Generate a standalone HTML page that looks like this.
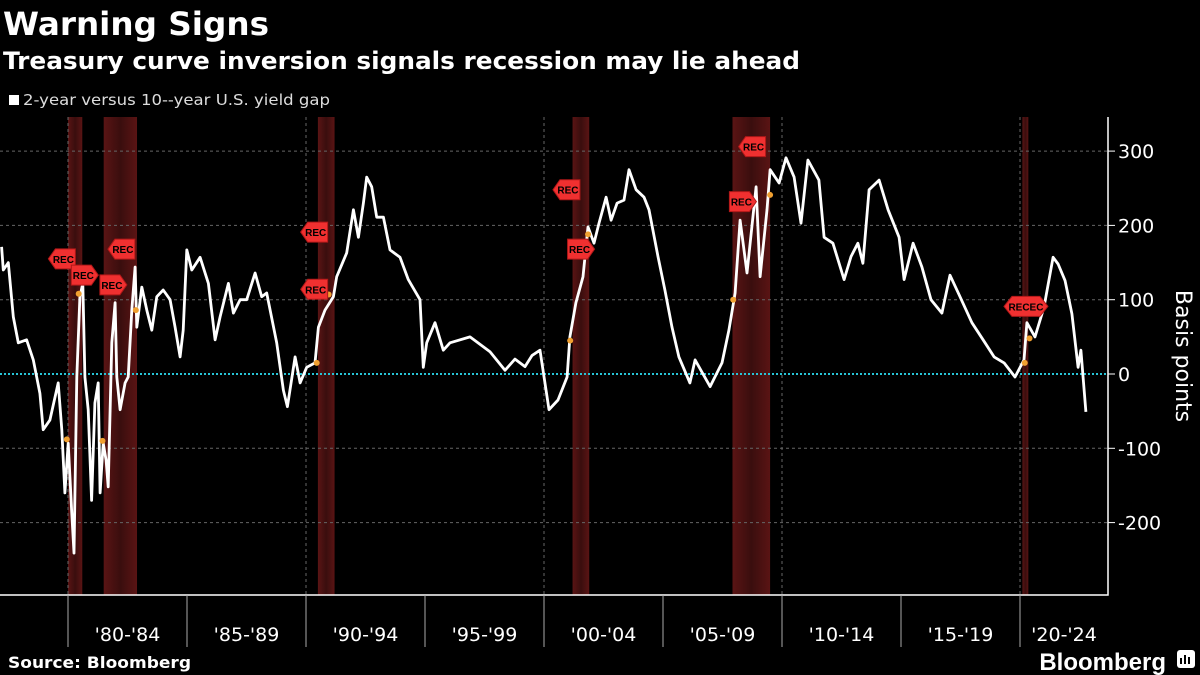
<!DOCTYPE html>
<html><head><meta charset="utf-8"><style>
html,body{margin:0;padding:0;background:#000;width:1200px;height:675px;overflow:hidden}
svg{display:block}
text{font-family:"Liberation Sans",sans-serif}
.dv{font-family:"DejaVu Sans",sans-serif}
</style></head><body>
<svg id="chart" width="1200" height="675" viewBox="0 0 1200 675">
<defs>
<linearGradient id="band" x1="0" x2="1" y1="0" y2="0">
<stop offset="0" stop-color="#5a1414"/><stop offset="0.5" stop-color="#3a0e0e"/><stop offset="1" stop-color="#5a1414"/>
</linearGradient>
</defs>
<text class="dv" x="3" y="35" font-size="32" font-weight="bold" fill="#fff" textLength="266" lengthAdjust="spacingAndGlyphs">Warning Signs</text>
<text class="dv" x="3" y="69" font-size="24" font-weight="bold" fill="#fff" textLength="797" lengthAdjust="spacingAndGlyphs">Treasury curve inversion signals recession may lie ahead</text>
<rect x="9" y="95" width="10" height="10" fill="#fff"/>
<text class="dv" x="23" y="105" font-size="15" fill="#ddd" textLength="307" lengthAdjust="spacingAndGlyphs">2-year versus 10--year U.S. yield gap</text>
<g id="bands"></g>
<g id="grid"></g>
<g id="series"></g>
<g id="marks"></g>
<g id="axes"></g>
<text class="dv" x="0" y="0" transform="translate(1176,356) rotate(90)" text-anchor="middle" font-size="22" fill="#fff">Basis points</text>
<text class="dv" x="8" y="668" font-size="16" font-weight="bold" fill="#fff" textLength="183" lengthAdjust="spacingAndGlyphs">Source: Bloomberg</text>
<text x="1166" y="670" text-anchor="end" font-size="24" font-weight="bold" fill="#fff">Bloomberg</text>
<g>
<rect x="1177" y="650" width="18" height="18" rx="3" fill="#fff"/>
<rect x="1180" y="658" width="2" height="6" fill="#000"/><rect x="1184" y="655" width="2" height="9" fill="#000"/><rect x="1188" y="657" width="2" height="7" fill="#000"/>
</g>
</svg>
<script>
const years=[1977.21,1977.28,1977.49,1977.70,1977.91,1978.26,1978.54,1978.82,1978.96,1979.24,1979.59,1979.74,1979.87,1980.01,1980.15,1980.25,1980.37,1980.50,1980.62,1980.71,1980.85,1980.99,1981.13,1981.27,1981.35,1981.48,1981.60,1981.69,1981.84,1981.98,1982.05,1982.19,1982.40,1982.53,1982.68,1982.82,1982.89,1983.10,1983.31,1983.52,1983.73,1984.00,1984.29,1984.50,1984.71,1984.84,1984.99,1985.20,1985.55,1985.90,1986.18,1986.39,1986.74,1986.95,1987.23,1987.51,1987.86,1988.14,1988.35,1988.77,1989.05,1989.22,1989.54,1989.75,1990.03,1990.38,1990.52,1990.80,1991.15,1991.29,1991.71,1991.99,1992.20,1992.41,1992.55,1992.76,1992.97,1993.25,1993.53,1993.95,1994.30,1994.79,1994.93,1995.07,1995.42,1995.77,1996.05,1996.89,1997.73,1998.36,1998.78,1999.20,1999.50,1999.83,2000.21,2000.59,2000.97,2001.09,2001.34,2001.64,2001.85,2002.10,2002.31,2002.61,2002.82,2003.07,2003.36,2003.57,2003.87,2004.20,2004.41,2004.79,2005.08,2005.38,2005.67,2006.13,2006.35,2006.98,2007.48,2007.77,2008.03,2008.24,2008.53,2008.91,2009.08,2009.37,2009.50,2009.88,2010.17,2010.51,2010.80,2011.09,2011.55,2011.77,2012.14,2012.61,2012.90,2013.19,2013.40,2013.66,2014.08,2014.46,2014.92,2015.13,2015.51,2015.88,2016.26,2016.72,2017.06,2017.48,2017.98,2018.45,2018.91,2019.33,2019.79,2020.17,2020.29,2020.63,2021.01,2021.39,2021.60,2021.89,2022.18,2022.44,2022.56,2022.77];
const spread=[171,140,150,77,42,46,19,-26,-75,-62,-12,-75,-160,-93,-183,-241,-4,104,122,-4,-48,-170,-39,-12,-160,-93,-116,-152,42,96,-4,-48,-12,-4,86,144,63,117,86,59,104,113,100,63,23,59,167,140,157,122,46,77,122,82,100,100,136,104,109,42,-22,-44,23,-12,9,15,63,86,104,131,163,221,184,230,265,252,211,211,167,157,127,100,9,42,69,32,42,50,30,5,20,10,25,32,-48,-35,-4,50,96,131,198,176,203,238,207,230,234,275,248,238,221,158,113,63,23,-12,19,-17,15,59,109,207,136,252,131,221,275,257,291,265,203,288,261,184,176,127,158,176,149,248,261,221,184,127,176,144,100,82,133,104,69,46,23,15,-4,19,69,50,90,157,148,126,81,9,32,-51];
const recStart=[1980.0,1981.5,1990.5,2001.2,2007.92,2020.1];
const recEnd=[1980.6,1982.9,1991.2,2001.9,2009.5,2020.35];
const yTicks=[300,200,100,0,-100,-200];
const xTickYears=[1980,1985,1990,1995,2000,2005,2010,2015,2020,2025];
const xLabels=["'80-'84","'85-'89","'90-'94","'95-'99","'00-'04","'05-'09","'10-'14","'15-'19","'20-'24"];
const gridYears=[1980,1990,2000,2010,2020];
const recFlags=[[1980.1,155,'L'],[1980.35,133,'R'],[1981.55,120,'R'],[1982.6,168,'L'],[1990.7,191,'L'],[1990.7,114,'L'],[2001.3,248,'L'],[2001.2,168,'R'],[2009.1,306,'L'],[2008.0,232,'R'],[2020.25,91,'D']];
const dots=[[1979.95,-88],[1980.45,108],[1981.45,-90],[1982.85,86],[1990.45,15],[1990.95,107],[2001.1,45],[2001.85,188],[2007.95,100],[2009.5,241],[2020.2,15],[2020.4,48]];

const NS='http://www.w3.org/2000/svg';
const X0=68, PX=23.8, Y0=374, PY=0.743, TOP=117, BOT=595, RIGHT=1108;
function xs(y){return X0+(y-1980)*PX;}
function ys(v){return Y0-v*PY;}
function mk(tag,attrs,parent){const e=document.createElementNS(NS,tag);for(const k in attrs)e.setAttribute(k,attrs[k]);parent.appendChild(e);return e;}

const gB=document.getElementById('bands');
recStart.forEach((s,i)=>{
  const r=mk('rect',{x:xs(s),y:TOP,width:xs(recEnd[i])-xs(s),height:BOT-TOP,fill:'url(#band)'},gB);
  
  
});
const gG=document.getElementById('grid');
yTicks.forEach(v=>{
  const l=mk('line',{x1:0,x2:RIGHT,y1:ys(v),y2:ys(v),stroke:v===0?'#27c4d6':'#666','stroke-width':v===0?2:1,'stroke-dasharray':v===0?'2 2':'3 3'},gG);
  
  
});
gridYears.forEach(y=>{
  const l=mk('line',{x1:xs(y),x2:xs(y),y1:TOP,y2:BOT,stroke:'#666','stroke-dasharray':'3 3'},gG);
  
  
});
const gS=document.getElementById('series');
let d='';years.forEach((y,i)=>{d+=(i?'L':'M')+xs(y).toFixed(1)+','+ys(spread[i]).toFixed(1);});
const p=mk('path',{d:d,fill:'none',stroke:'#fff','stroke-width':2.8,'stroke-linejoin':'round'},gS);



const gM=document.getElementById('marks');
dots.forEach(dd=>{
  const c=mk('circle',{cx:xs(dd[0]),cy:ys(dd[1]),r:3,fill:'#f0a030'},gM);
  
  
});
recFlags.forEach(f=>{
  const x=xs(f[0]),y=ys(f[1]);
  const g=mk('g',{},gM);
  
  
  let pts;
  if(f[2]==='L') pts=[[x-22,y],[x-15,y-10],[x+5,y-10],[x+5,y+10],[x-15,y+10]];
  else if(f[2]==='R') pts=[[x-5,y-10],[x+15,y-10],[x+22,y],[x+15,y+10],[x-5,y+10]];
  else pts=[[x-22,y],[x-14,y-10],[x+14,y-10],[x+22,y],[x+14,y+10],[x-14,y+10]];
  mk('polygon',{points:pts.map(q=>q.join(',')).join(' '),fill:'#f03030',stroke:'#b01818'},g);
  const cx=f[2]==='L'?x-7:(f[2]==='R'?x+7:x);
  const t=mk('text',{x:cx,y:y+4,'text-anchor':'middle','font-size':10,'font-weight':'bold',fill:'#000'},g);
  t.textContent=f[2]==='D'?'RECEC':'REC';
});

const gA=document.getElementById('axes');
const ax=mk('path',{d:`M0,${BOT}H${RIGHT}V${TOP}`,fill:'none',stroke:'#fff','stroke-width':1.5},gA);


yTicks.forEach(v=>{
  mk('line',{x1:RIGHT,x2:RIGHT+7,y1:ys(v),y2:ys(v),stroke:'#fff'},gA);
  const t=mk('text',{x:RIGHT+10,y:ys(v)+7,'font-size':19,fill:'#fff','class':'dv'},gA);
  
  
  t.textContent=v;
});
xTickYears.forEach(y=>{
  if(xs(y)>RIGHT)return;
  const l=mk('line',{x1:xs(y),x2:xs(y),y1:BOT,y2:647,stroke:'#aaa'},gA);
  
  
});
xLabels.forEach((s,i)=>{
  const a=xs(xTickYears[i]),b=Math.min(xs(xTickYears[i+1]),RIGHT);
  const t=mk('text',{x:(a+b)/2,y:641,'text-anchor':'middle','font-size':19,fill:'#fff','class':'dv'},gA);
  
  
  t.textContent=s;
});
</script>
</body></html>
